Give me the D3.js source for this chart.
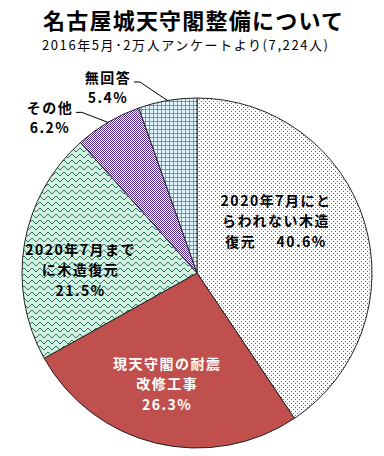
<!DOCTYPE html>
<html>
<head>
<meta charset="utf-8">
<script src="https://cdn.jsdelivr.net/npm/d3@7"></script>
<style>
body{margin:0;background:#fff;}
svg{display:block;}
text{font-family:"Noto Sans CJK JP","Noto Sans",sans-serif;}
pattern rect{shape-rendering:crispEdges;}
</style>
</head>
<body>
<div id="chart"></div>
<script>
var title = "名古屋城天守閣整備について";
var subtitle = "2016年5月･2万人アンケートより(7,224人)";
var categories = ["2020年7月にとらわれない木造復元", "現天守閣の耐震改修工事", "2020年7月までに木造復元", "その他", "無回答"];
var values = [40.6, 26.3, 21.5, 6.2, 5.4];
var nameLines = [["2020年7月にと", "らわれない木造", "復元"], ["現天守閣の耐震", "改修工事"], ["2020年7月まで", "に木造復元"], ["その他"], ["無回答"]];

var W = 384, H = 456, cx = 197, cy = 273, R = 175;

var svg = d3.select("#chart").append("svg").attr("width", W).attr("height", H);
svg.append("rect").attr("width", W).attr("height", H).attr("fill", "#fff");

// fill patterns
var defs = svg.append("defs");

var pDots = defs.append("pattern").attr("id", "pDots").attr("patternUnits", "userSpaceOnUse")
    .attr("width", 4).attr("height", 4);
pDots.append("rect").attr("width", 4).attr("height", 4).attr("fill", "#fff");
pDots.append("rect").attr("x", 0).attr("y", 0).attr("width", 1).attr("height", 1).attr("fill", "#5a6d72");
pDots.append("rect").attr("x", 2).attr("y", 2).attr("width", 1).attr("height", 1).attr("fill", "#5a6d72");

var pWave = defs.append("pattern").attr("id", "pWave").attr("patternUnits", "userSpaceOnUse")
    .attr("width", 8).attr("height", 6);
pWave.append("rect").attr("width", 8).attr("height", 6).attr("fill", "#d4f0e3");
[3, 2, 1, 1, 2, 3, 4, 4].forEach(function(yy, i) {
    pWave.append("rect").attr("x", i).attr("y", yy).attr("width", 1).attr("height", 1).attr("fill", "#287a5e");
});

var pCheck = defs.append("pattern").attr("id", "pCheck").attr("patternUnits", "userSpaceOnUse")
    .attr("width", 2).attr("height", 2);
pCheck.append("rect").attr("width", 2).attr("height", 2).attr("fill", "#fff");
pCheck.append("rect").attr("x", 0).attr("y", 0).attr("width", 1).attr("height", 1).attr("fill", "#5a2b8c");
pCheck.append("rect").attr("x", 1).attr("y", 1).attr("width", 1).attr("height", 1).attr("fill", "#5a2b8c");

var pGrid = defs.append("pattern").attr("id", "pGrid").attr("patternUnits", "userSpaceOnUse")
    .attr("width", 4).attr("height", 4);
pGrid.append("rect").attr("width", 4).attr("height", 4).attr("fill", "#e2f7fd");
pGrid.append("rect").attr("x", 0).attr("y", 0).attr("width", 4).attr("height", 1).attr("fill", "#22b6e4");
pGrid.append("rect").attr("x", 0).attr("y", 0).attr("width", 1).attr("height", 4).attr("fill", "#22b6e4");

var fills = ["url(#pDots)", "#c0504d", "url(#pWave)", "url(#pCheck)", "url(#pGrid)"];
var textColors = ["#000", "#fff", "#000", "#000", "#000"];
var inlinePct = [true, false, false, false, false];

// title
svg.append("text").attr("x", 193).attr("y", 29).attr("text-anchor", "middle")
    .attr("font-size", 22).attr("font-weight", "bold")
    .attr("textLength", 300).attr("lengthAdjust", "spacing").text(title);
svg.append("text").attr("x", 185).attr("y", 50).attr("text-anchor", "middle")
    .attr("font-size", 13)
    .attr("textLength", 286).attr("lengthAdjust", "spacing").text(subtitle);

var pie = d3.pie().sort(null).value(function(d) { return d; });
var arcs = pie(values);
var arc = d3.arc().innerRadius(0).outerRadius(R);
var labelArc = d3.arc().innerRadius(115).outerRadius(115);

var g = svg.append("g").attr("transform", "translate(" + cx + "," + cy + ")");

g.selectAll("path.slice").data(arcs).enter().append("path")
    .attr("class", "slice")
    .attr("d", arc)
    .attr("fill", function(d, i) { return fills[i]; })
    .attr("stroke", "#222")
    .attr("stroke-width", 1);

// inner labels
var nudge = [[-31, -34], [-3, -16], [-3, 1]];
arcs.forEach(function(d, i) {
    if (i > 2) return;
    var c = labelArc.centroid(d);
    var lines = nameLines[i].slice();
    var pct = values[i].toFixed(1) + "%";
    if (inlinePct[i]) lines[lines.length - 1] += "　 " + pct; else lines.push(pct);
    var t = g.append("text").attr("text-anchor", "middle")
        .attr("font-size", 14).attr("font-weight", "bold")
        .attr("letter-spacing", 1.5)
        .attr("fill", textColors[i]);
    lines.forEach(function(s, k) {
        t.append("tspan").attr("x", c[0] + nudge[i][0]).attr("y", c[1] + nudge[i][1] + k * 20.5).text(s);
    });
});

// outer labels with leader lines
var elbow = { 3: [-26, -10], 4: [-27.5, -18.5] };
arcs.forEach(function(d, i) {
    if (i < 3) return;
    var mid = (d.startAngle + d.endAngle) / 2;
    var p0 = [R * Math.sin(mid), -R * Math.cos(mid)];
    var p1 = [p0[0] + elbow[i][0], p0[1] + elbow[i][1]];
    var p2 = [p1[0] - 6, p1[1]];
    g.append("path")
        .attr("d", d3.line()([p0, p1, p2]))
        .attr("fill", "none").attr("stroke", "#000").attr("stroke-width", 1);
    var tx = p2[0] - 26;
    var t = g.append("text").attr("text-anchor", "middle")
        .attr("font-size", 14).attr("font-weight", "bold")
        .attr("letter-spacing", 1.5).attr("fill", "#000");
    t.append("tspan").attr("x", tx).attr("y", p1[1] + 1).text(nameLines[i][0]);
    t.append("tspan").attr("x", tx).attr("y", p1[1] + 21).text(values[i].toFixed(1) + "%");
});
</script>
</body>
</html>
